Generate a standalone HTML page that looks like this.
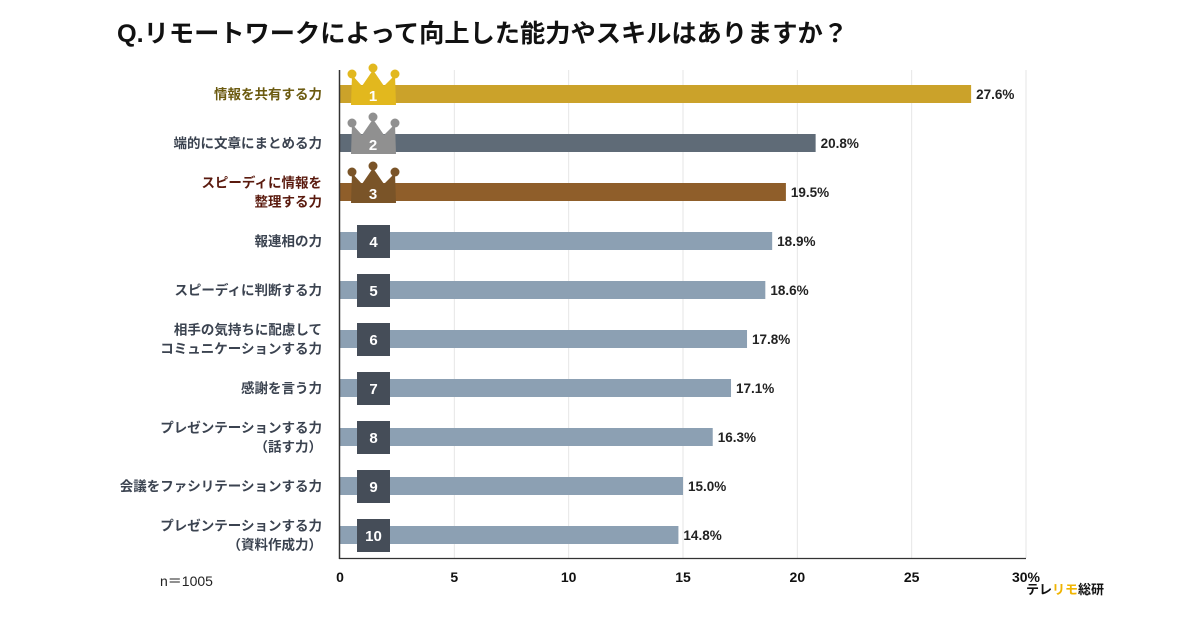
<!DOCTYPE html>
<html><head><meta charset="utf-8"><style>
body{margin:0;background:#fff;width:1200px;height:630px;overflow:hidden}
svg{display:block;font-family:"Liberation Sans","Noto Sans CJK JP",sans-serif}
</style></head><body>
<svg id="chart" width="1200" height="630" viewBox="0 0 1200 630">
<text x="117" y="42" font-size="25" font-weight="bold" fill="#111" textLength="731" lengthAdjust="spacingAndGlyphs">Q.リモートワークによって向上した能力やスキルはありますか？</text>
<g id="grid"></g><g id="bars"></g><g id="labels"></g><g id="badges"></g><g id="xticks"></g>
<line x1="339.5" y1="70" x2="339.5" y2="559" stroke="#333" stroke-width="1.5"/>
<line x1="339" y1="558.5" x2="1026" y2="558.5" stroke="#333" stroke-width="1.2"/>
<text x="160" y="586" font-size="14" fill="#222">n＝1005</text>
<text x="1026" y="594" font-size="13" font-weight="bold" fill="#111">テレ<tspan fill="#f0b400">リモ</tspan>総研</text>
</svg>
<script>
const categories=[["情報を共有する力"],["端的に文章にまとめる力"],["スピーディに情報を","整理する力"],["報連相の力"],["スピーディに判断する力"],["相手の気持ちに配慮して","コミュニケーションする力"],["感謝を言う力"],["プレゼンテーションする力","（話す力）"],["会議をファシリテーションする力"],["プレゼンテーションする力","（資料作成力）"]];
const values=[27.6,20.8,19.5,18.9,18.6,17.8,17.1,16.3,15.0,14.8];
const ticks=[0,5,10,15,20,25,30];
const tickLabels=["0","5","10","15","20","25","30%"];
const NS="http://www.w3.org/2000/svg";
const x0=340,x1=1026,xmax=30,rowTop=94,rowStep=49;
const xs=v=>x0+(x1-x0)*v/xmax;
const ys=i=>rowTop+rowStep*i;
function mk(t,a,p){const e=document.createElementNS(NS,t);for(const k in a)e.setAttribute(k,a[k]);p.appendChild(e);return e;}
const grid=document.getElementById('grid'),bars=document.getElementById('bars'),labels=document.getElementById('labels'),badges=document.getElementById('badges'),xt=document.getElementById('xticks');
ticks.forEach((t,i)=>{
  if(t>0){const l=mk('line',{x1:xs(t),x2:xs(t),y1:70,y2:558,stroke:'#e6e6e6','stroke-width':1},grid);
  
  }
  const tx=mk('text',{x:xs(t),y:582,'font-size':14,'font-weight':'bold','text-anchor':'middle',fill:'#111'},xt);
  tx.textContent=tickLabels[i];
  
  
});
const barCol=['#cba22a','#5f6b77','#8f5e2a'];
const labCol=['#6b5a10','#3b4350','#5a1a0e'];
const crownCol=['#e2b81e','#909090','#7a5428'];
values.forEach((v,i)=>{
  const y=ys(i);
  const r=mk('rect',{x:x0,y:y-9,width:xs(v)-x0,height:18,fill:i<3?barCol[i]:'#8ca0b3'},bars);
  
  
  const vt=mk('text',{x:xs(v)+5,y:y+5,'font-size':13.5,'font-weight':'bold',fill:'#222'},bars);
  vt.textContent=v.toFixed(1)+'%';
  
  
  const lines=categories[i];
  lines.forEach((s,j)=>{
    const ty=y+5+(j-(lines.length-1)/2)*19;
    const t=mk('text',{x:322,y:ty,'font-size':13.5,'font-weight':'bold','text-anchor':'end',fill:i<3?labCol[i]:'#3b4350'},labels);
    t.textContent=s;
    
    
  });
  const g=mk('g',{},badges);
  
  
  if(i<3){
    const c=crownCol[i];
    mk('path',{d:`M352 ${y-19} L362 ${y-8} L373 ${y-24} L384 ${y-8} L395 ${y-19} L396 ${y+11} L351 ${y+11} Z`,fill:c},g);
    [[352,y-20],[373,y-26],[395,y-20]].forEach(p=>mk('circle',{cx:p[0],cy:p[1],r:4.5,fill:c},g));
    const n=mk('text',{x:373,y:y+7,'font-size':15,'font-weight':'bold','text-anchor':'middle',fill:'#fff'},g);n.textContent=i+1;
  }else{
    mk('rect',{x:357,y:y-16,width:33,height:33,fill:'#454d58'},g);
    const n=mk('text',{x:373.5,y:y+6,'font-size':15,'font-weight':'bold','text-anchor':'middle',fill:'#fff'},g);n.textContent=i+1;
  }
});
</script>
</body></html>
